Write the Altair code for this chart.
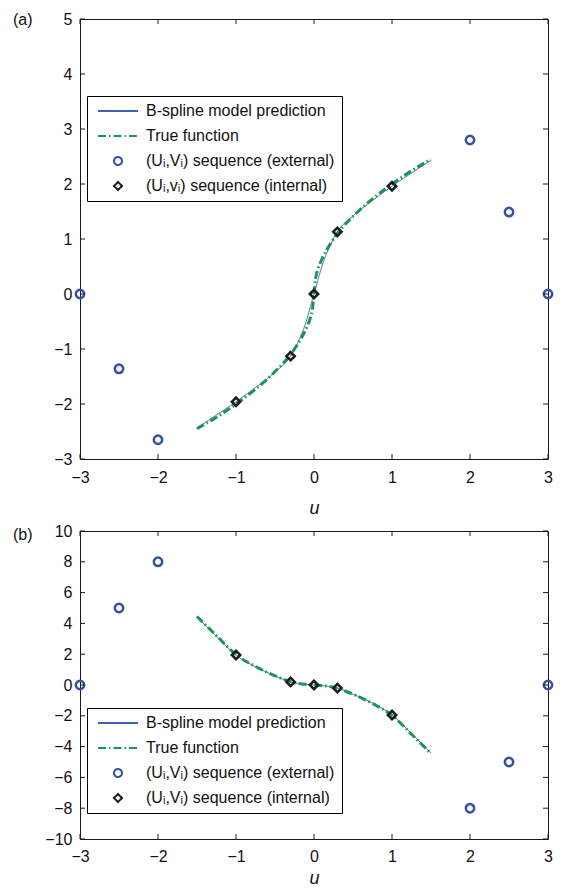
import altair as alt
import pandas as pd

# ---------------- data ----------------
NAMES_A = ["B-spline model prediction", "True function",
           "(Uᵢ,Vᵢ) sequence (external)", "(Uᵢ,vᵢ) sequence (internal)"]
NAMES_B = ["B-spline model prediction", "True function",
           "(Uᵢ,Vᵢ) sequence (external)", "(Uᵢ,Vᵢ) sequence (internal)"]

x_ticks = [-3, -2, -1, 0, 1, 2, 3]
y_ticks_a = [-3, -2, -1, 0, 1, 2, 3, 4, 5]
y_ticks_b = [-10, -8, -6, -4, -2, 0, 2, 4, 6, 8, 10]

ext_u = [-3, -2.5, -2, 2, 2.5, 3]
int_u = [-1, -0.3, 0, 0.3, 1]
curve_u = [-1.5, -1.25, -1.0, -0.75, -0.5, -0.3, -0.2, -0.1, -0.05, -0.02, 0,
           0.02, 0.05, 0.1, 0.2, 0.3, 0.5, 0.75, 1.0, 1.25, 1.5]

# panel (a)
ext_v_a = [0, -1.36, -2.65, 2.8, 1.49, 0]
int_v_a = [-1.96, -1.13, 0, 1.13, 1.96]
spline_v_a = [-2.43, -2.2, -1.96, -1.7, -1.42, -1.13, -0.86, -0.5, -0.25, -0.1, 0,
              0.1, 0.25, 0.5, 0.86, 1.13, 1.42, 1.7, 1.96, 2.2, 2.43]
true_v_a = [-2.45, -2.24, -2.0, -1.73, -1.41, -1.1, -0.89, -0.63, -0.45, -0.28, 0,
            0.28, 0.45, 0.63, 0.89, 1.1, 1.41, 1.73, 2.0, 2.24, 2.45]

# panel (b)
ext_v_b = [0, 5, 8, -8, -5, 0]
int_v_b = [1.95, 0.2, 0, -0.2, -1.95]
spline_v_b = [4.43, 3.15, 1.95, 1.18, 0.6, 0.2, 0.1, 0.04, 0.02, 0.01, 0,
              -0.01, -0.02, -0.04, -0.1, -0.2, -0.6, -1.18, -1.95, -3.15, -4.43]
true_v_b = [4.45, 3.2, 1.97, 1.2, 0.6, 0.22, 0.1, 0.04, 0.02, 0.01, 0,
            -0.01, -0.02, -0.04, -0.1, -0.22, -0.6, -1.2, -1.97, -3.2, -4.45]

# ---------------- style ----------------
FONT = "Liberation Sans"
BLUE_LINE = "#4060c0"
BLUE_MARK = "#3550a8"
GREEN = "#1b9650"
BLACK = "#1a1a1a"
W = 468
LINE_PATH = "M-5,0H5"


def panel(names, ext_v, int_v, spl_v, tru_v, yticks, ydom, height, label, leg_y,
          xlab_pad, title_pad, label_y):
    color_scale = alt.Scale(domain=names, range=[BLUE_LINE, GREEN, BLUE_MARK, BLACK])
    shape_scale = alt.Scale(domain=names, range=[LINE_PATH, LINE_PATH, "circle", "diamond"])
    dash_scale = alt.Scale(domain=names, range=[[1, 0], [8, 3, 1.5, 3], [1, 0], [1, 0]])
    legend = alt.Legend(
        orient="none", legendX=7, legendY=leg_y, padding=7,
        strokeColor="black", fillColor="white", cornerRadius=0,
        labelFont=FONT, labelFontSize=16, labelColor="#111",
        symbolSize=64, symbolStrokeWidth=2, symbolOffset=16, labelOffset=20,
        rowPadding=9, labelLimit=400,
    )

    n = len(curve_u)
    curves = pd.DataFrame({
        "u": curve_u + curve_u,
        "v": spl_v + tru_v,
        "series": [names[0]] * n + [names[1]] * n,
    })
    pts = pd.DataFrame({
        "u": ext_u + int_u,
        "v": ext_v + int_v,
        "series": [names[2]] * len(ext_u) + [names[3]] * len(int_u),
    })

    x = alt.X("u:Q", scale=alt.Scale(domain=[-3, 3], nice=False, zero=False),
              axis=alt.Axis(values=x_ticks, format="d", title="u", domain=False, ticks=False,
                            tickSize=0, grid=False, labelPadding=xlab_pad, labelFlush=False,
                            labelOverlap=False,
                            labelFont=FONT, labelFontSize=16, labelColor="#111",
                            titleFont=FONT, titleFontSize=18, titleFontStyle="italic",
                            titleFontWeight="normal", titlePadding=title_pad, titleColor="#111"))
    y = alt.Y("v:Q", scale=alt.Scale(domain=ydom, nice=False, zero=False),
              axis=alt.Axis(values=yticks, format="d", title=None, domain=False, ticks=False,
                            tickSize=0, grid=False, labelPadding=8, labelOverlap=False,
                            labelFont=FONT, labelFontSize=16, labelColor="#111"))

    base_c = alt.Chart(curves)
    blue = base_c.transform_filter(alt.datum.series == names[0]).mark_line(
        strokeWidth=1, interpolate="monotone").encode(
        x=x, y=y,
        color=alt.Color("series:N", scale=color_scale, legend=legend, title=None),
        strokeDash=alt.StrokeDash("series:N", scale=dash_scale, legend=legend, title=None),
    )
    green = base_c.transform_filter(alt.datum.series == names[1]).mark_line(
        strokeWidth=3, interpolate="monotone").encode(
        x=x, y=y,
        color=alt.Color("series:N", scale=color_scale, legend=legend, title=None),
        strokeDash=alt.StrokeDash("series:N", scale=dash_scale, legend=legend, title=None),
    )
    marks = alt.Chart(pts).mark_point(filled=False, size=70, strokeWidth=2.5, opacity=1).encode(
        x=x, y=y,
        color=alt.Color("series:N", scale=color_scale, legend=legend, title=None),
        shape=alt.Shape("series:N", scale=shape_scale, legend=legend, title=None),
    )

    xt = pd.DataFrame({"u": x_ticks})
    yt = pd.DataFrame({"v": yticks})
    tick_bottom = alt.Chart(xt).mark_rule(color=BLACK, strokeWidth=1).encode(
        x=x, y=alt.value(height), y2=alt.value(height - 5))
    tick_top = alt.Chart(xt).mark_rule(color=BLACK, strokeWidth=1).encode(
        x=x, y=alt.value(0), y2=alt.value(5))
    tick_left = alt.Chart(yt).mark_rule(color=BLACK, strokeWidth=1).encode(
        y=y, x=alt.value(0), x2=alt.value(5))
    tick_right = alt.Chart(yt).mark_rule(color=BLACK, strokeWidth=1).encode(
        y=y, x=alt.value(W), x2=alt.value(W - 5))

    lab = alt.Chart(pd.DataFrame({"lab": [label]})).mark_text(
        align="left", baseline="middle", font=FONT, fontSize=16, color="#111").encode(
        text="lab:N", x=alt.value(-67), y=alt.value(label_y))

    return alt.layer(blue, green, marks, tick_bottom, tick_top, tick_left, tick_right, lab).properties(
        width=W, height=height)


pa = panel(NAMES_A, ext_v_a, int_v_a, spline_v_a, true_v_a, y_ticks_a, [-3, 5], 440, "(a)", 77,
           10, 14, 1)
pb = panel(NAMES_B, ext_v_b, int_v_b, spline_v_b, true_v_b, y_ticks_b, [-10, 10], 308, "(b)", 177,
           9, 5, 4)

chart = alt.vconcat(pa, pb, spacing=4).resolve_scale(
    color="independent", shape="independent", strokeDash="independent",
    x="independent", y="independent",
).resolve_legend(color="independent", shape="independent", strokeDash="independent").properties(
    padding={"left": 4, "top": 2, "right": 0, "bottom": 0}
).configure(font=FONT).configure_view(stroke=BLACK, strokeWidth=1)

chart.save("out.html", embed_options={"renderer": "svg", "actions": False})
